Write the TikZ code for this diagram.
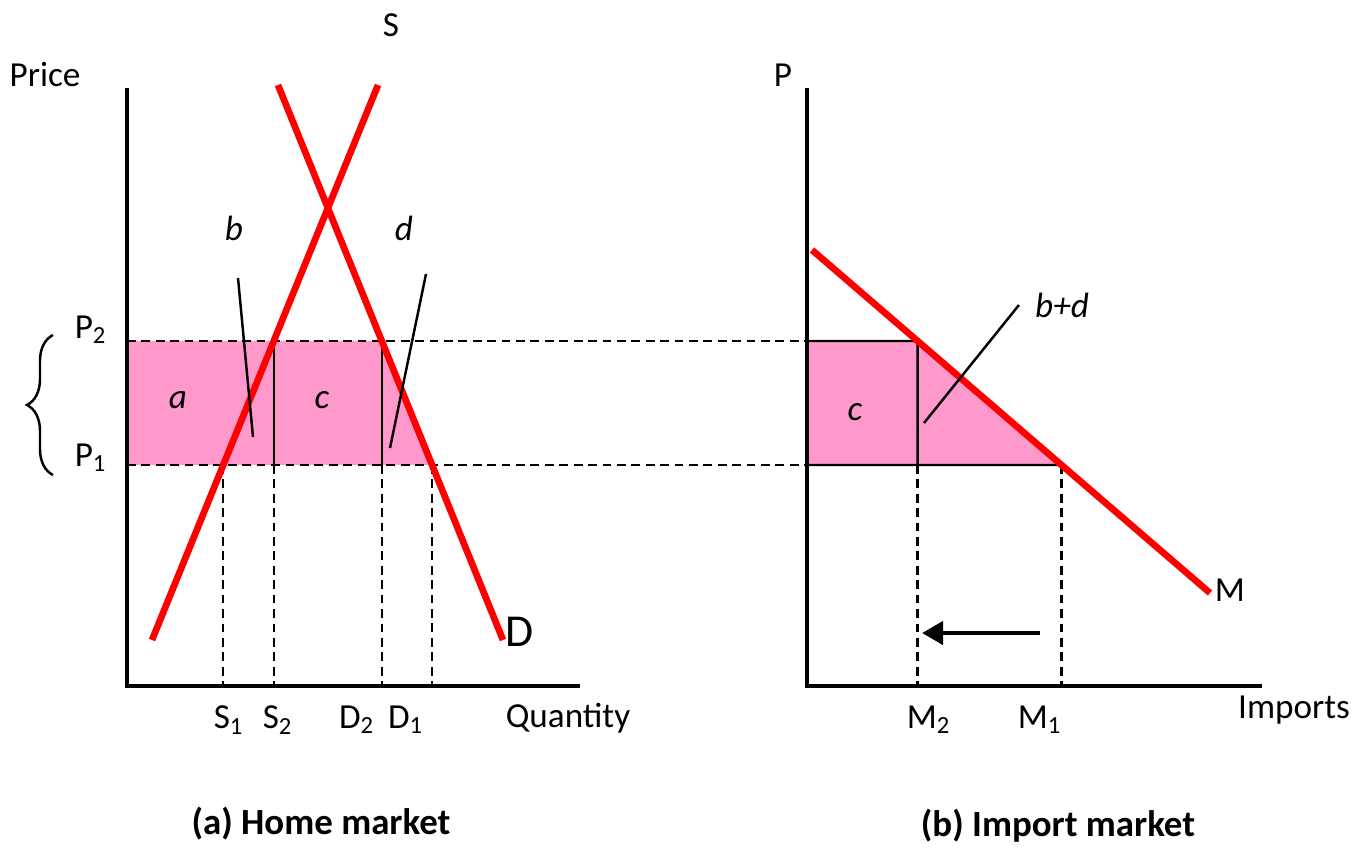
\documentclass[tikz,border=0pt]{standalone}
\usepackage{fontspec}
\setmainfont{Carlito}
\usetikzlibrary{arrows.meta,decorations.pathreplacing}
\definecolor{tariffPink}{RGB}{255,153,204}
\definecolor{curveRed}{RGB}{255,0,0}
\begin{document}
\begin{tikzpicture}[every node/.style={font=\fontsize{10}{12}\selectfont, inner sep=1pt},
  axis/.style={line width=1.1pt},
  curve/.style={curveRed, line width=1.9pt},
  guide/.style={line width=0.7pt, dash pattern=on 2.5pt off 1.6pt},
  leader/.style={line width=0.7pt},
  area/.style={font=\fontsize{10}{12}\selectfont\itshape},
  title/.style={font=\fontsize{10.5}{12}\selectfont\bfseries}]
  \useasboundingbox (0,0) rectangle (13.63,8.48);
  % Reference points
  \coordinate (o1) at (1.27,1.62);
  \coordinate (o2) at (8.07,1.62);
  \coordinate (p2l) at (1.27,5.07);
  \coordinate (p1l) at (1.27,3.83);
  \coordinate (p2r) at (8.07,5.07);
  \coordinate (p1r) at (8.07,3.83);
  \coordinate (sa) at (1.52,2.08);
  \coordinate (sb) at (3.78,7.63);
  \coordinate (da) at (2.78,7.63);
  \coordinate (db) at (5.03,2.08);
  \coordinate (ma) at (8.12,5.98);
  \coordinate (mb) at (12.10,2.55);
  \coordinate (s1) at (intersection of sa--sb and p1l--p1r);
  \coordinate (s2) at (intersection of sa--sb and p2l--p2r);
  \coordinate (d1) at (intersection of da--db and p1l--p1r);
  \coordinate (d2) at (intersection of da--db and p2l--p2r);
  \coordinate (m1) at (intersection of ma--mb and p1l--p1r);
  \coordinate (m2) at (intersection of ma--mb and p2l--p2r);
  % Shaded areas
  \fill[tariffPink] (p1l) -- (p2l) -- (d2) -- (d1) -- cycle;
  \fill[tariffPink] (p1r) -- (p2r) -- (m2) -- (m1) -- cycle;
  % Price lines
  \draw[guide] (p2l) -- (p2r);
  \draw[guide] (p1l) -- (p1r);
  \draw[leader] (s2) -- (s2 |- p1l);
  \draw[leader] (d2) -- (d2 |- p1l);
  \draw[guide] (s1) -- (s1 |- o1);
  \draw[guide] (s2 |- p1l) -- (s2 |- o1);
  \draw[guide] (d2 |- p1l) -- (d2 |- o1);
  \draw[guide] (d1) -- (d1 |- o1);
  \draw[leader] (p1r) -- (p2r) -- (m2) -- (m2 |- p1r) -- cycle;
  \draw[leader] (m2 |- p1r) -- (m1);
  \draw[guide] (m2 |- p1r) -- (m2 |- o2);
  \draw[guide] (m1) -- (m1 |- o2);
  % Axes
  \draw[axis] (1.27,7.60) -- (o1) -- (5.80,1.62);
  \draw[axis] (8.07,7.60) -- (o2) -- (12.62,1.62);
  % Curves
  \draw[curve] (sa) -- (sb);
  \draw[curve] (da) -- (db);
  \draw[curve] (ma) -- (mb);
  % Leaders
  \node[area] (blab) at (2.34,6.20) {b};
  \node[area] (dlab) at (4.04,6.20) {d};
  \node[area] (bdlab) at (10.62,5.43) {b+d};
  \coordinate (bfoot) at (2.53,4.11);
  \coordinate (dfoot) at (3.90,4.00);
  \coordinate (bdfoot) at (9.24,4.25);
  \draw[leader] (2.38,5.70) -- (bfoot);
  \draw[leader] (4.26,5.74) -- (dfoot);
  \draw[leader] (bdlab.west) ++(-0.12,0) -- (bdfoot);
  \node[area] (alab) at (1.78,4.48) {a};
  \node[area] (clab) at (3.22,4.48) {c};
  \node[area] (cimp) at (8.55,4.36) {c};
  % Arrow
  \coordinate (arrtail) at (10.40,2.15);
  \coordinate (arrhead) at (9.22,2.15);
  \draw[line width=1.4pt, -{Triangle[length=6pt,width=6.5pt]}] (arrtail) -- (arrhead);
  % Labels
  \node (price) at (0.45,7.73) {Price};
  \node (slab) at (3.91,8.23) {S};
  \node[font=\fontsize{13}{15}\selectfont] (dend) at (5.20,2.16) {D};
  \node (qty) at (5.68,1.30) {Quantity};
  \node (p2lab) at (0.91,5.18) {P\textsubscript{2}};
  \node (p1lab) at (0.91,3.90) {P\textsubscript{1}};
  \node (s1lab) at (2.29,1.28) {S\textsubscript{1}};
  \node (s2lab) at (2.78,1.28) {S\textsubscript{2}};
  \node (d2lab) at (3.57,1.28) {D\textsubscript{2}};
  \node (d1lab) at (4.06,1.28) {D\textsubscript{1}};
  \draw[decorate, decoration={brace, amplitude=0.26cm}, line width=0.7pt] (0.53,3.73) -- (0.53,5.13);
  \node (plab) at (7.83,7.73) {P};
  \node (imp) at (12.94,1.38) {Imports};
  \node (mlab) at (12.30,2.58) {M};
  \node (m2lab) at (9.29,1.28) {M\textsubscript{2}};
  \node (m1lab) at (10.40,1.28) {M\textsubscript{1}};
  \node[title] (ttla) at (3.21,0.24) {(a) Home market};
  \node[title] (ttlb) at (10.58,0.22) {(b) Import market};
\end{tikzpicture}
\end{document}
